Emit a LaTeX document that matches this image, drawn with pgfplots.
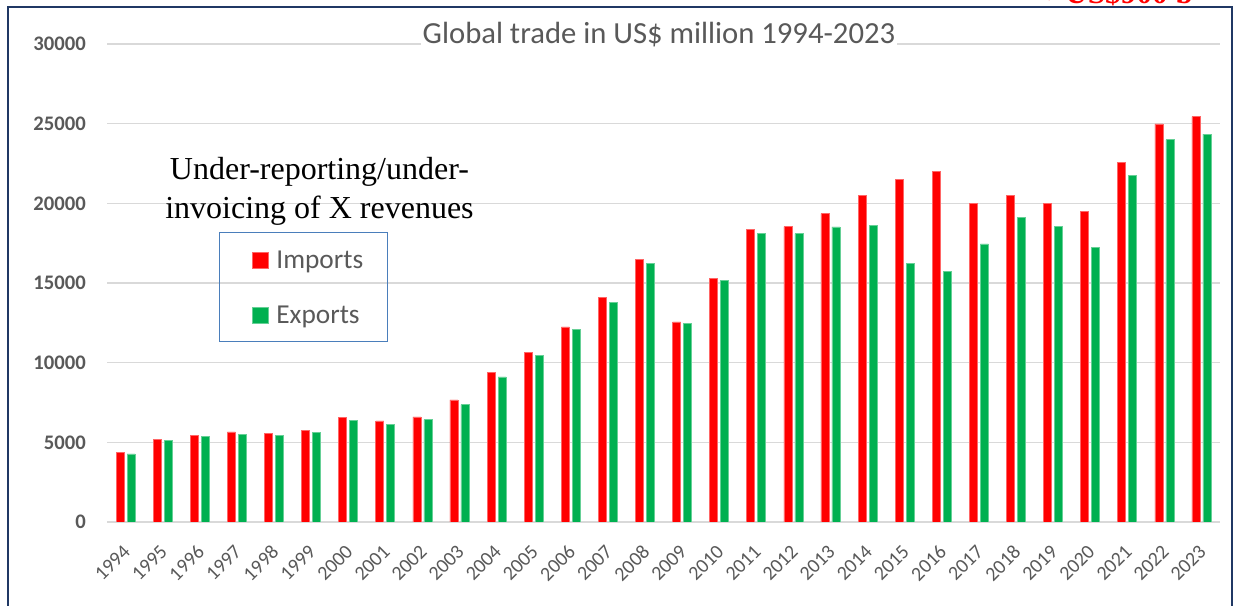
\documentclass[border=0pt]{standalone}
\usepackage{pgfplots}
\pgfplotsset{compat=1.18}
\usepackage{pgfplotstable}
\usepackage{fontspec}
\setmainfont{Carlito}
\newfontfamily\tnr{Liberation Serif}
\definecolor{txtgray}{HTML}{595959}
\definecolor{gridgray}{HTML}{D9D9D9}
\definecolor{impred}{HTML}{FF0000}
\definecolor{expgreen}{HTML}{00B050}
\definecolor{legblue}{HTML}{4A7EBB}
\definecolor{framenavy}{HTML}{203864}

\pgfplotstableread{
x imp exp
0 4350 4270
1 5190 5130
2 5440 5360
3 5650 5520
4 5540 5460
5 5770 5630
6 6570 6360
7 6340 6130
8 6590 6420
9 7670 7360
10 9400 9106
11 10650 10460
12 12250 12106
13 14090 13780
14 16460 16230
15 12560 12460
16 15270 15150
17 18360 18110
18 18540 18100
19 19360 18520
20 20500 18620
21 21500 16225
22 22020 15730
23 20000 17460
24 20500 19120
25 20000 18540
26 19500 17220
27 22580 21750
28 24980 23990
29 25440 24350
}\datatable

\begin{document}
\begin{tikzpicture}
\useasboundingbox (0,0) rectangle (927.75pt,454.5pt);
\begin{axis}[
  at={(80.25pt,63pt)}, anchor=south west,
  scale only axis, width=834.75pt, height=358.5pt,
  ybar=2.25pt, bar width=6pt,
  xmin=-0.5, xmax=29.5, ymin=0, ymax=30000,
  xtick=data,
  xticklabels={1994,1995,1996,1997,1998,1999,2000,2001,2002,2003,2004,2005,2006,2007,2008,2009,2010,2011,2012,2013,2014,2015,2016,2017,2018,2019,2020,2021,2022,2023},
  ytick={0,5000,10000,15000,20000,25000,30000},
  ymajorgrids, major grid style={gridgray, line width=1.1pt},
  axis line style={draw=none},
  major tick length=0pt,
  scaled y ticks=false,
  /pgf/number format/assume math mode=true,
  /pgf/number format/1000 sep={},
  yticklabel style={font=\fontsize{15.5}{18}\selectfont\bfseries, text=txtgray, inner sep=0pt, xshift=-15.75pt},
  xticklabel style={font=\fontsize{15}{18}\selectfont, text=txtgray, inner sep=0pt, anchor=east, xshift=1pt, yshift=-19.9pt, rotate=45},
  legend style={at={(0.1006,0.6067)}, anchor=north west, draw=legblue, line width=1.1pt, fill=none,
    font=\fontsize{20.5}{24}\selectfont, text=txtgray, inner xsep=18.1pt, inner ysep=11.7pt,
    row sep=24.15pt, column sep=6.2pt, nodes={inner sep=0pt, text height=15.3pt, text depth=1.8pt}, cells={anchor=west}},
  legend cell align=left,
  legend image code/.code={\path (0pt,0pt); \fill[#1] (6pt,-6.25pt) rectangle (17.8pt,5.55pt);},
]
\addplot[fill=impred, draw=impred!60!white, line width=0.4pt] table[x=x,y=imp]{\datatable};
\addplot[fill=expgreen, draw=expgreen!60!white, line width=0.4pt] table[x=x,y=exp]{\datatable};
\legend{Imports, Exports}
\end{axis}
\node[anchor=base, font=\fontsize{23}{27}\selectfont, text=txtgray, fill=white, inner sep=1pt] at (494.25pt,422pt) {Global trade in US\$ million 1994-2023};
\node[anchor=base, inner sep=0pt, font=\tnr\fontsize{24}{28}\selectfont] at (239.6pt,319.5pt) {Under-reporting/under-};
\node[anchor=base, inner sep=0pt, font=\tnr\fontsize{24}{28}\selectfont] at (239.6pt,290.25pt) {invoicing of X revenues};
\node[anchor=base west, inner sep=0pt, text=red, font=\tnr\bfseries\fontsize{23.5}{28}\selectfont] at (785.25pt,451.5pt) {>US\$900 b};
\draw[framenavy, line width=1.5pt] (6pt,-2pt) -- (6pt,449.25pt) -- (924pt,449.25pt) -- (924pt,-2pt);
\end{tikzpicture}
\end{document}
